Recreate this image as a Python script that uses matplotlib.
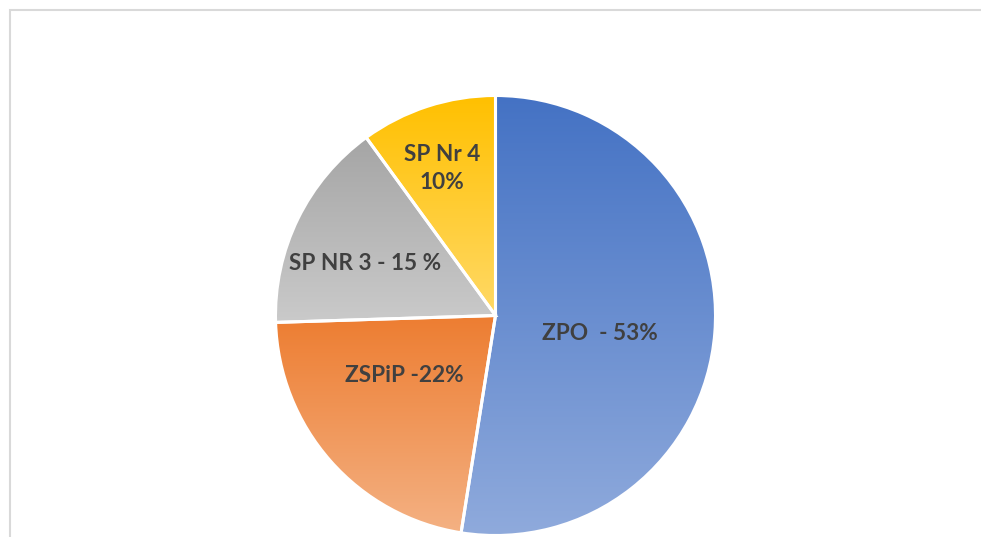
import numpy as np
import matplotlib
matplotlib.use("Agg")
import matplotlib.pyplot as plt
from matplotlib.colors import to_rgb
from matplotlib.patches import Rectangle

labels = ["ZPO  - 53%", "ZSPiP -22%", "SP NR 3 - 15 %", "SP Nr 4\n10%"]
values = [52.5, 22, 15.5, 10]
top_colors = ["#4472C4", "#ED7D31", "#A5A5A5", "#FFC000"]
bottom_colors = ["#8FAADC", "#F4B183", "#CACACA", "#FFD966"]
# label placement: fraction of radius and angle shift (deg) from wedge middle
label_r = [0.482, 0.496, 0.636, 0.712]
label_shift = [-5.5, -7.9, 4.5, 2.0]

W, H = 981, 537
fig = plt.figure(figsize=(W / 100, H / 100), dpi=100)
ax = fig.add_axes([0, 0, 1, 1])

cx, cy, R = 495.5, 315.5, 220.0

wedges, _ = ax.pie(values, startangle=90, counterclock=False, radius=1,
                   wedgeprops=dict(linewidth=0))

for w, c1, c2 in zip(wedges, top_colors, bottom_colors):
    w.set_facecolor("none")
    ext = w.get_path().get_extents()
    t = np.linspace(0, 1, 256)[:, None]
    a, b = np.array(to_rgb(c1)), np.array(to_rgb(c2))
    grad = (a + (b - a) * t[..., None]) * np.ones((1, 2, 1))
    im = ax.imshow(grad, extent=(ext.x0, ext.x1, ext.y0, ext.y1),
                   origin="upper", aspect="auto", zorder=1, interpolation="bilinear")
    im.set_clip_path(w)
    w.set_edgecolor("white")
    w.set_linewidth(2.2)
    w.set_zorder(2)

ax.set_xlim(-cx / R, (W - cx) / R)
ax.set_ylim(-(H - cy) / R, cy / R)
ax.axis("off")

for w, lab, r, s in zip(wedges, labels, label_r, label_shift):
    mid = np.deg2rad((w.theta1 + w.theta2) / 2 + s)
    ax.text(r * np.cos(mid), r * np.sin(mid), lab, ha="center", va="center",
            fontsize=16.3, fontweight="bold", color="#404040", family="Lato",
            linespacing=1.4, zorder=3)

# chart frame (bottom and right are cut off)
fig.patches.append(Rectangle((9.5, -10), W + 20, H - 9.5 + 10, transform=None,
                             fill=False, edgecolor="#D9D9D9", linewidth=1.5))

fig.savefig("out.png", dpi=100)
